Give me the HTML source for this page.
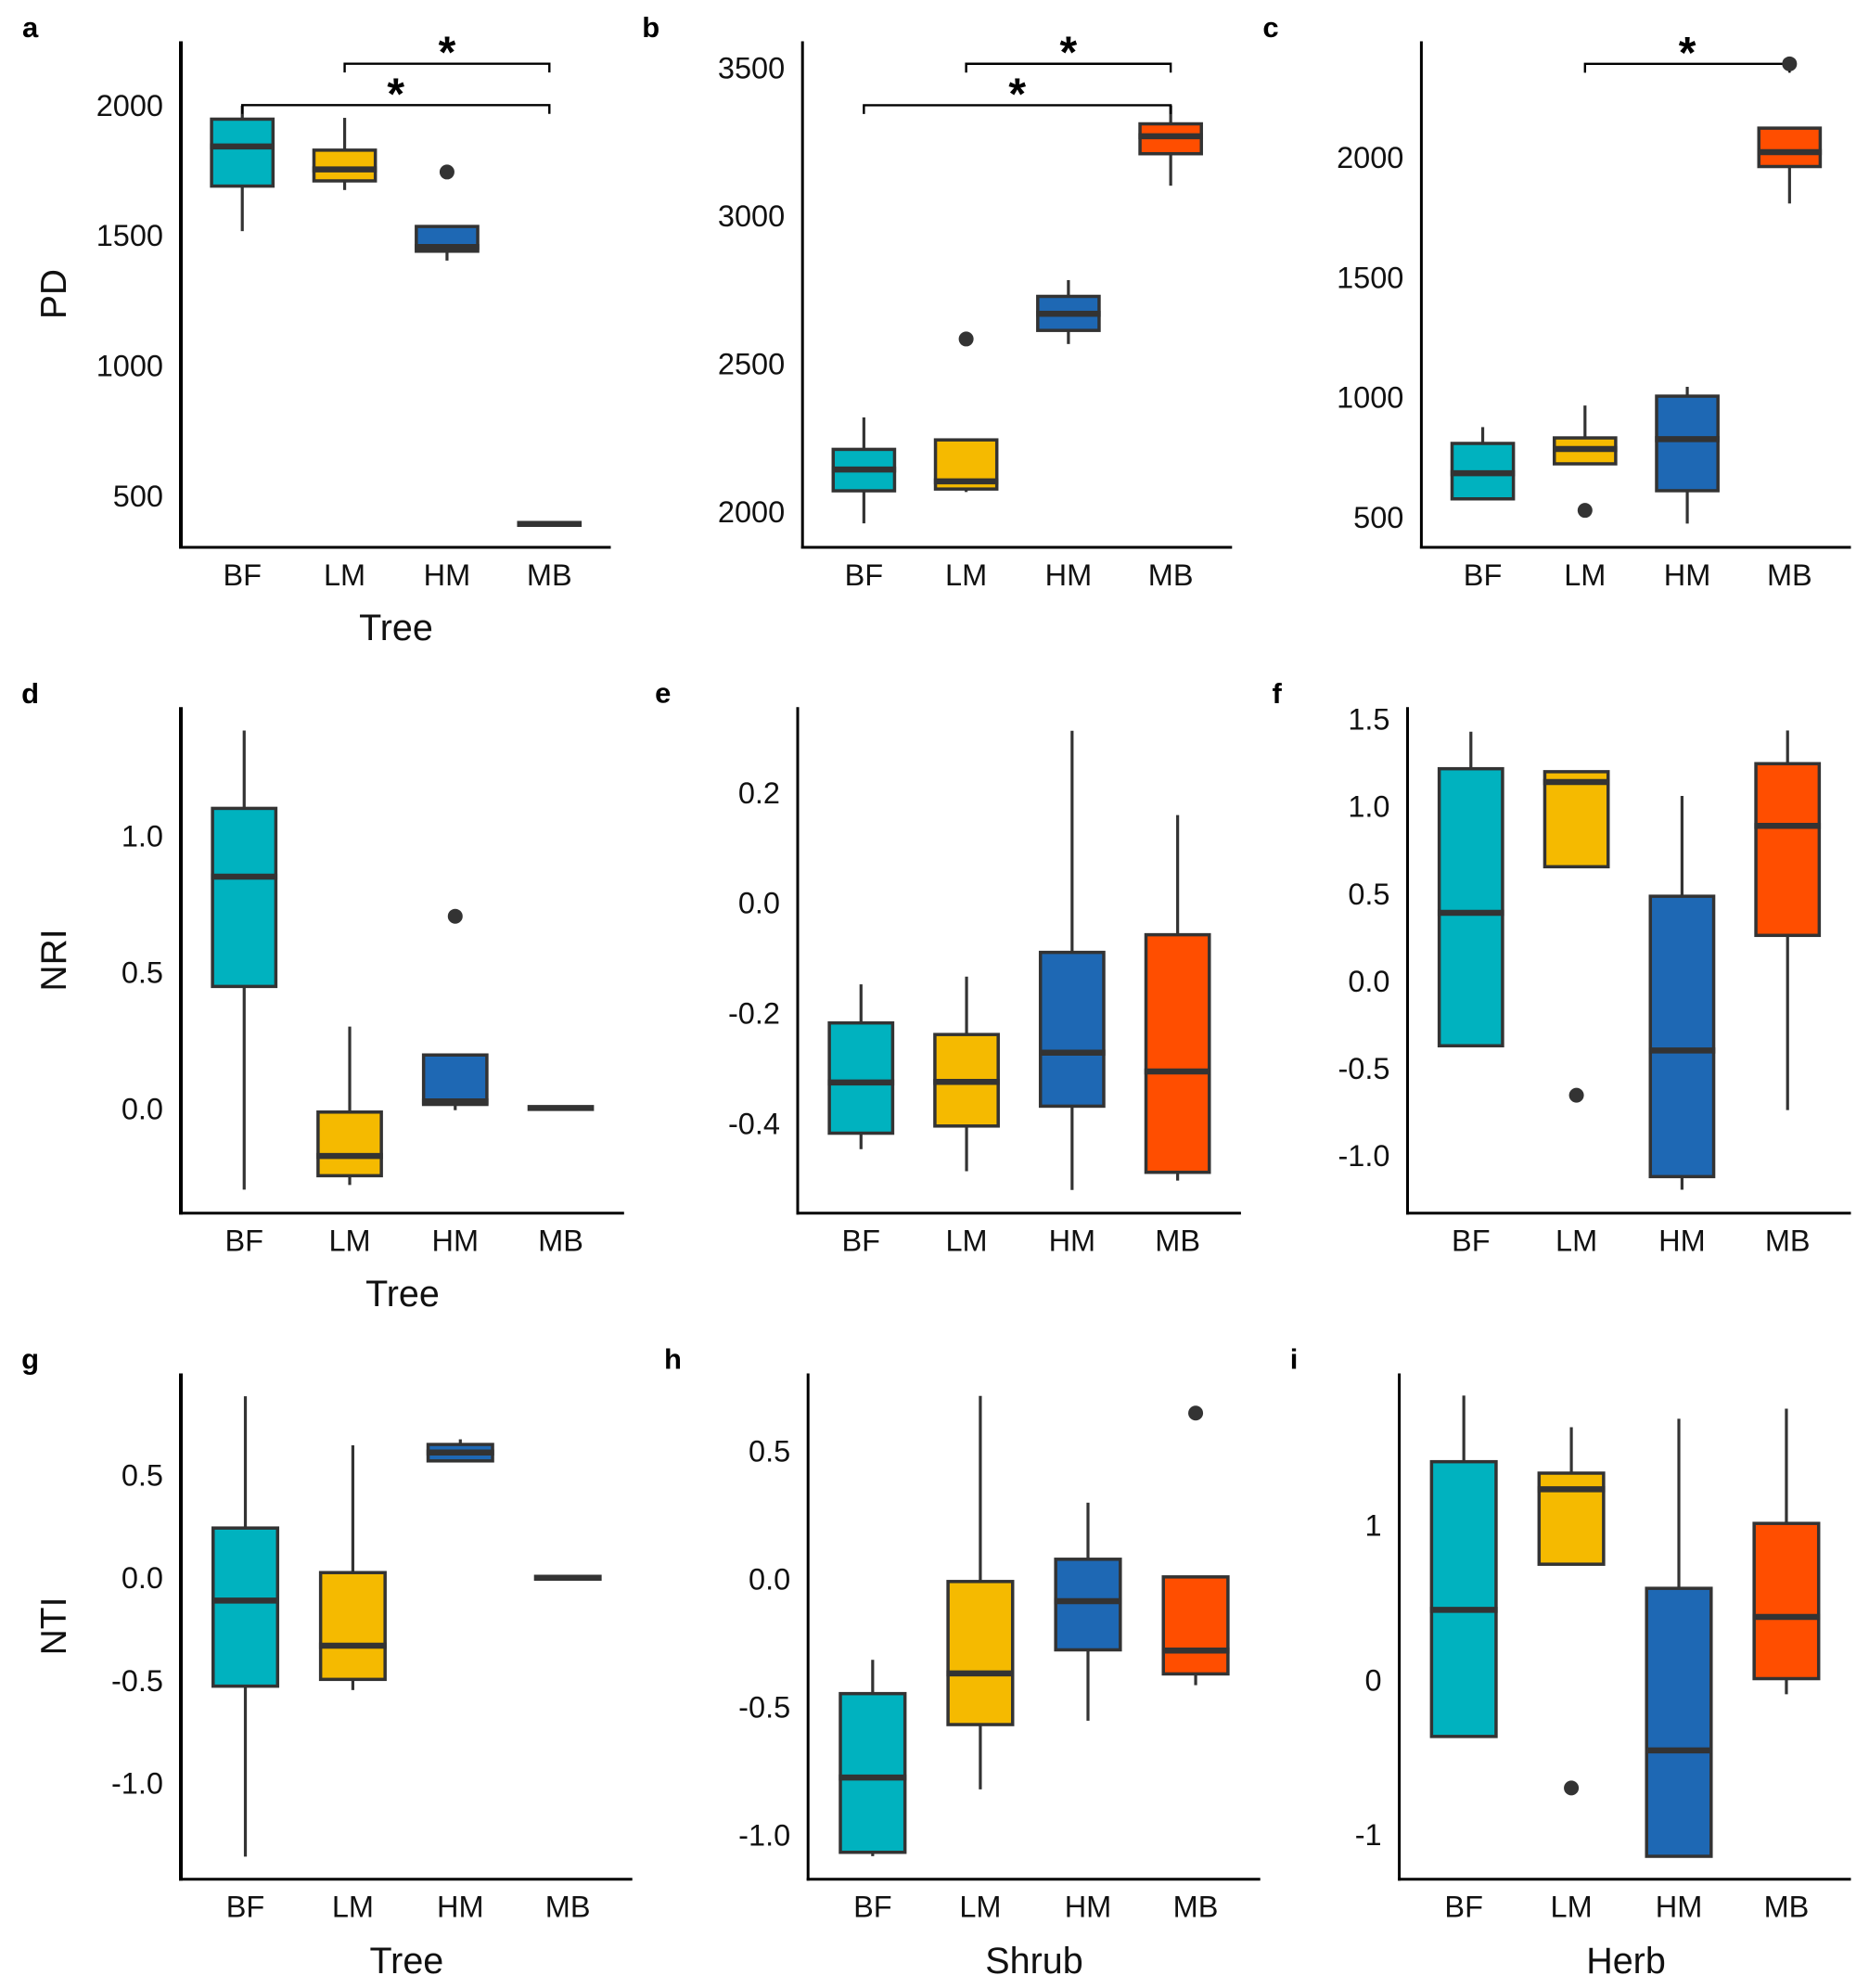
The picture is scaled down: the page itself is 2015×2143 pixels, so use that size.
<!DOCTYPE html>
<html lang="en">
<head>
<meta charset="utf-8">
<title>Phylogenetic diversity boxplots</title>
<style>
html,body{margin:0;padding:0;background:#fff;}
svg{display:block;font-family:"Liberation Sans",Arial,sans-serif;}
</style>
</head>
<body>
<svg id="figure" xmlns="http://www.w3.org/2000/svg" width="2015" height="2143" viewBox="0 0 2015 2143">
<rect width="2015" height="2143" fill="#ffffff"/>
</svg>
<script>
const categories = ['BF','LM','HM','MB'];
const categoryColors = ['#00B2BF','#F5BA00','#1E68B4','#FF4E00'];

// Panel a
const aTickLabels = ['500','1000','1500','2000'];
const aWhiskerHigh = [1998,1951,1534,392];
const aQ3 = [1946,1827,1534,392];
const aMedian = [1841,1753,1455,392];
const aQ1 = [1689,1709,1439,392];
const aWhiskerLow = [1516,1674,1403,392];
const aOutliers = [null,null,1743,null];
const aBracketStart = [1,0];
const aBracketEnd = [3,3];
const aBracketLevel = [2159,2000];

// Panel b
const bTickLabels = ['2000','2500','3000','3500'];
const bWhiskerHigh = [2318,2242,2782,3372];
const bQ3 = [2210,2242,2727,3310];
const bMedian = [2142,2102,2668,3268];
const bQ1 = [2070,2076,2612,3209];
const bWhiskerLow = [1960,2066,2566,3101];
const bOutliers = [null,2583,null,null];
const bBracketStart = [1,0];
const bBracketEnd = [3,3];
const bBracketLevel = [3513,3373];

// Panel c
const cTickLabels = ['500','1000','1500','2000'];
const cWhiskerHigh = [875,965,1043,2121];
const cQ3 = [807,830,1004,2121];
const cMedian = [683,784,825,2021];
const cQ1 = [576,722,610,1961];
const cWhiskerLow = [576,722,473,1807];
const cOutliers = [null,528,null,2389];
const cBracketStart = [1];
const cBracketEnd = [3];
const cBracketLevel = [2389];

// Panel d
const dTickLabels = ['0.0','0.5','1.0'];
const dWhiskerHigh = [1.385,0.301,0.197,0.003];
const dQ3 = [1.10,-0.012,0.197,0.003];
const dMedian = [0.85,-0.173,0.027,0.003];
const dQ1 = [0.448,-0.245,0.016,0.003];
const dWhiskerLow = [-0.296,-0.279,-0.005,0.003];
const dOutliers = [null,null,0.705,null];

// Panel e
const eTickLabels = ['-0.4','-0.2','0.0','0.2'];
const eWhiskerHigh = [-0.148,-0.134,0.312,0.159];
const eQ3 = [-0.218,-0.239,-0.090,-0.058];
const eMedian = [-0.326,-0.325,-0.272,-0.306];
const eQ1 = [-0.418,-0.405,-0.369,-0.489];
const eWhiskerLow = [-0.447,-0.487,-0.521,-0.504];
const eOutliers = [null,null,null,null];

// Panel f
const fTickLabels = ['-1.0','-0.5','0.0','0.5','1.0','1.5'];
const fWhiskerHigh = [1.427,1.202,1.059,1.434];
const fQ3 = [1.215,1.198,0.485,1.244];
const fMedian = [0.39,1.139,-0.398,0.888];
const fQ1 = [-0.371,0.654,-1.12,0.261];
const fWhiskerLow = [-0.371,0.654,-1.195,-0.739];
const fOutliers = [null,-0.654,null,null];

// Panel g
const gTickLabels = ['-1.0','-0.5','0.0','0.5'];
const gWhiskerHigh = [0.884,0.645,0.674,0];
const gQ3 = [0.242,0.025,0.649,0];
const gMedian = [-0.111,-0.331,0.610,0];
const gQ1 = [-0.528,-0.495,0.569,0];
const gWhiskerLow = [-1.358,-0.547,0.563,0];
const gOutliers = [null,null,null,null];

// Panel h
const hTickLabels = ['-1.0','-0.5','0.0','0.5'];
const hWhiskerHigh = [-0.316,0.715,0.298,0.008];
const hQ3 = [-0.448,-0.010,0.077,0.008];
const hMedian = [-0.776,-0.369,-0.087,-0.280];
const hQ1 = [-1.068,-0.569,-0.277,-0.371];
const hWhiskerLow = [-1.083,-0.822,-0.554,-0.415];
const hOutliers = [null,null,null,0.648];

// Panel i
const iTickLabels = ['-1','0','1'];
const iWhiskerHigh = [1.839,1.634,1.689,1.754];
const iQ3 = [1.411,1.337,0.592,1.012];
const iMedian = [0.453,1.233,-0.456,0.407];
const iQ1 = [-0.366,0.748,-1.141,0.008];
const iWhiskerLow = [-0.366,0.748,-1.141,-0.093];
const iOutliers = [null,-0.699,null,null];

const NS = 'http://www.w3.org/2000/svg';
const figure = document.getElementById('figure');

function make(parent, tag, props, text) {
  const el = document.createElementNS(NS, tag);
  for (const key in props) el.setAttribute(key, props[key]);
  if (text !== undefined) el.textContent = text;
  parent.appendChild(el);
  return el;
}

function drawPanel(p, d) {
  const g = make(figure, 'g', {});
  
  

  const yScale = v => p.bottom + (v - p.domain[0]) * (p.top - p.bottom) / (p.domain[1] - p.domain[0]);
  const step = (p.right - p.left) / 4.2;
  const xScale = i => p.left + (i + 0.6) * step;
  const boxWidth = 0.6 * step;

  const label = make(g, 'text', {x: p.labelX, y: p.labelY, 'text-anchor': 'middle', 'font-size': 31, 'font-weight': 'bold', fill: '#000'}, p.id);
  
  

  d.tickLabels.forEach(t => {
    const tick = make(g, 'text', {x: p.left - 19, y: yScale(Number(t)) + 11.5, 'text-anchor': 'end', 'font-size': 32.5, fill: '#111'}, t);
    
    
  });

  categories.forEach((c, i) => {
    const tick = make(g, 'text', {x: xScale(i), y: p.bottom + 41, 'text-anchor': 'middle', 'font-size': 32.5, fill: '#111'}, c);
    
    
  });

  categories.forEach((c, i) => {
    const x = xScale(i);
    const box = make(g, 'g', {});
    
    

    const upper = make(box, 'line', {x1: x, x2: x, y1: yScale(d.whiskerHigh[i]), y2: yScale(d.q3[i]), stroke: '#333', 'stroke-width': 3.2});
    
    

    const lower = make(box, 'line', {x1: x, x2: x, y1: yScale(d.q1[i]), y2: yScale(d.whiskerLow[i]), stroke: '#333', 'stroke-width': 3.2});
    
    

    const rect = make(box, 'rect', {x: x - boxWidth / 2, y: yScale(d.q3[i]), width: boxWidth, height: Math.abs(yScale(d.q1[i]) - yScale(d.q3[i])), fill: categoryColors[i], stroke: '#333', 'stroke-width': 3.5});
    
    

    const median = make(box, 'line', {x1: x - boxWidth / 2 - 1.7, x2: x + boxWidth / 2 + 1.7, y1: yScale(d.median[i]), y2: yScale(d.median[i]), stroke: '#333', 'stroke-width': 6.5});
    
    
  });

  const axisY = make(g, 'line', {x1: p.left, x2: p.left, y1: p.top, y2: p.bottom + 1.5, stroke: '#000', 'stroke-width': p.axisWidth});
  
  

  const axisX = make(g, 'line', {x1: p.left - p.axisWidth / 2, x2: p.right, y1: p.bottom, y2: p.bottom, stroke: '#000', 'stroke-width': 3});
  
  

  if (p.yTitle) {
    const title = make(g, 'text', {transform: 'translate(71,' + p.yTitleY + ') rotate(-90)', 'text-anchor': 'middle', 'font-size': 39, fill: '#111'}, p.yTitle);
    
    
  }
  if (p.xTitle) {
    const title = make(g, 'text', {x: p.xTitleX, y: p.xTitleY, 'text-anchor': 'middle', 'font-size': 39.5, fill: '#111'}, p.xTitle);
    
    
  }

  (d.bracketLevel || []).forEach((level, b) => {
    const x1 = xScale(d.bracketStart[b]);
    const x2 = xScale(d.bracketEnd[b]);
    const y = yScale(level);
    const bracket = make(g, 'path', {d: 'M' + x1 + ' ' + (y + 9.5) + 'V' + y + 'H' + x2 + 'V' + (y + 9.5), fill: 'none', stroke: '#000', 'stroke-width': 2.4});
    
    
    const star = make(g, 'text', {x: (x1 + x2) / 2, y: y + 4, 'text-anchor': 'middle', 'font-size': 48, 'font-weight': 'bold', fill: '#000'}, '*');
    
    
  });

  d.outliers.forEach((v, i) => {
    if (v === null) return;
    const dot = make(g, 'circle', {cx: xScale(i), cy: yScale(v), r: 8, fill: '#333'});
    
    
  });
}

drawPanel({id:'a',left:195,right:658.5,top:44.5,bottom:590,domain:[302,2245],axisWidth:4,labelX:32.6,labelY:40,yTitle:'PD',yTitleY:317,xTitle:'Tree',xTitleX:427,xTitleY:690},
  {tickLabels:aTickLabels,whiskerHigh:aWhiskerHigh,q3:aQ3,median:aMedian,q1:aQ1,whiskerLow:aWhiskerLow,outliers:aOutliers,bracketStart:aBracketStart,bracketEnd:aBracketEnd,bracketLevel:aBracketLevel});
drawPanel({id:'b',left:865.2,right:1328.3,top:44.5,bottom:590,domain:[1879,3589],axisWidth:3,labelX:701.7,labelY:40},
  {tickLabels:bTickLabels,whiskerHigh:bWhiskerHigh,q3:bQ3,median:bMedian,q1:bQ1,whiskerLow:bWhiskerLow,outliers:bOutliers,bracketStart:bBracketStart,bracketEnd:bBracketEnd,bracketLevel:bBracketLevel});
drawPanel({id:'c',left:1532.4,right:1995.5,top:44.5,bottom:590,domain:[374,2483],axisWidth:3,labelX:1370,labelY:40},
  {tickLabels:cTickLabels,whiskerHigh:cWhiskerHigh,q3:cQ3,median:cMedian,q1:cQ1,whiskerLow:cWhiskerLow,outliers:cOutliers,bracketStart:cBracketStart,bracketEnd:cBracketEnd,bracketLevel:cBracketLevel});
drawPanel({id:'d',left:195,right:672.8,top:762.2,bottom:1307.7,domain:[-0.382,1.471],axisWidth:4,labelX:32.6,labelY:758,yTitle:'NRI',yTitleY:1035,xTitle:'Tree',xTitleX:434,xTitleY:1408},
  {tickLabels:dTickLabels,whiskerHigh:dWhiskerHigh,q3:dQ3,median:dMedian,q1:dQ1,whiskerLow:dWhiskerLow,outliers:dOutliers});
drawPanel({id:'e',left:860,right:1337.9,top:762.2,bottom:1307.7,domain:[-0.563,0.355],axisWidth:3,labelX:714.7,labelY:757.5},
  {tickLabels:eTickLabels,whiskerHigh:eWhiskerHigh,q3:eQ3,median:eMedian,q1:eQ1,whiskerLow:eWhiskerLow,outliers:eOutliers});
drawPanel({id:'f',left:1517.5,right:1995.5,top:762.2,bottom:1307.7,domain:[-1.329,1.568],axisWidth:3,labelX:1376.7,labelY:758},
  {tickLabels:fTickLabels,whiskerHigh:fWhiskerHigh,q3:fQ3,median:fMedian,q1:fQ1,whiskerLow:fWhiskerLow,outliers:fOutliers});
drawPanel({id:'g',left:195,right:681.7,top:1480.5,bottom:2025.7,domain:[-1.468,0.995],axisWidth:4,labelX:32.6,labelY:1475.5,yTitle:'NTI',yTitleY:1753,xTitle:'Tree',xTitleX:438.4,xTitleY:2127},
  {tickLabels:gTickLabels,whiskerHigh:gWhiskerHigh,q3:gQ3,median:gMedian,q1:gQ1,whiskerLow:gWhiskerLow,outliers:gOutliers});
drawPanel({id:'h',left:871.2,right:1358.7,top:1480.5,bottom:2025.7,domain:[-1.173,0.803],axisWidth:3,labelX:725.5,labelY:1475.5,xTitle:'Shrub',xTitleX:1115,xTitleY:2127},
  {tickLabels:hTickLabels,whiskerHigh:hWhiskerHigh,q3:hQ3,median:hMedian,q1:hQ1,whiskerLow:hWhiskerLow,outliers:hOutliers});
drawPanel({id:'i',left:1508.6,right:1995.5,top:1480.5,bottom:2025.7,domain:[-1.289,1.982],axisWidth:3,labelX:1395,labelY:1475.5,xTitle:'Herb',xTitleX:1753,xTitleY:2127},
  {tickLabels:iTickLabels,whiskerHigh:iWhiskerHigh,q3:iQ3,median:iMedian,q1:iQ1,whiskerLow:iWhiskerLow,outliers:iOutliers});
</script>
</body>
</html>
